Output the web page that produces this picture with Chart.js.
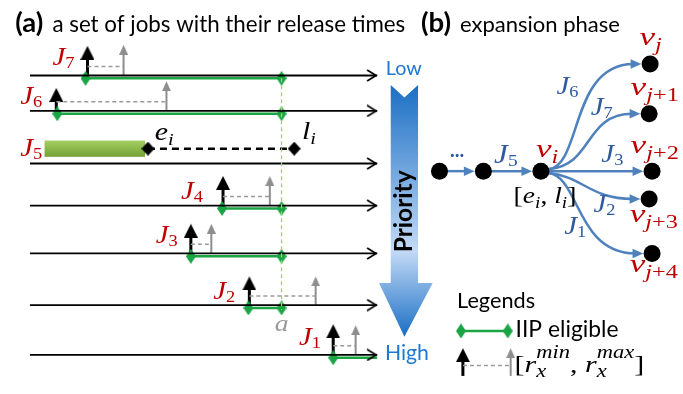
<!DOCTYPE html>
<html>
<head>
<meta charset="utf-8">
<script src="https://cdn.jsdelivr.net/npm/chart.js@4.4.0/dist/chart.umd.min.js"></script>
<style>
html, body { margin: 0; padding: 0; background: #fff; }
#wrap { width: 683px; height: 394px; }
</style>
</head>
<body>
<div id="wrap"><canvas id="chart" width="683" height="394"></canvas></div>
<script>
// (a) jobs, from low to high priority
const jobIds = ['7', '6', '5', '4', '3', '2', '1'];
const rowLevel = [70, 107, 162, 206, 256, 310, 362];
const timeStart = 22;
const timeEnd = 378;
const releaseMin = [81, 49, null, 220, 187, 247, 333];
const releaseMax = [118, 162, null, 268, 208, 315, 356];
const releaseMinTop = [39, 83, null, 175, 225, 280, 330];
const releaseMaxTop = [38, 76, null, 175, 225, 280, 331];
const eligibleFrom = [79, 50, null, 219, 187, 246, 333];
const eligibleTo = [280, 280, null, 280, 280, 280, 378];
// J5 is the running job
const execStart = 37;
const execEnd = 140;
const earliestFinish = 143;
const latestFinish = 293;
const deadlineA = 280;

// (b) expansion graph
const nodeX = [442, 487, 546, 658, 657, 660, 657, 660];
const nodeY = [170, 170, 170, 58, 110, 170, 199, 256];
const nodeSub = [null, null, 'i', 'j', 'j+1', 'j+2', 'j+3', 'j+4'];
const edgeFrom = [0, 1, 2, 2, 2, 2, 2];
const edgeTo = [1, 2, 3, 4, 5, 6, 7];
const edgeJob = ['', '5', '6', '7', '3', '2', '1'];

const GREEN = '#1aa544';
const GRAY = '#8e8e8e';
const RED = '#c00000';
const EDGE = '#4f81bd';
const JBLUE = '#2f5a9e';
const MATH = '"Liberation Serif"';

// little canvases used as point styles
function makeDiamond(w, h, color) {
    const c = document.createElement('canvas');
    c.width = w; c.height = h;
    const g = c.getContext('2d');
    g.fillStyle = color;
    g.beginPath();
    g.moveTo(w / 2, 0); g.lineTo(w, h / 2); g.lineTo(w / 2, h); g.lineTo(0, h / 2);
    g.closePath(); g.fill();
    return c;
}
// apex sits in the middle of the canvas so the point value is the arrow tip
function makeHead(w, h, color) {
    const c = document.createElement('canvas');
    c.width = w; c.height = h * 2;
    const g = c.getContext('2d');
    g.fillStyle = color;
    g.beginPath();
    g.moveTo(w / 2, h); g.lineTo(w, h * 2); g.lineTo(0, h * 2);
    g.closePath(); g.fill();
    return c;
}
function makeChevron(w, h, color) {
    const c = document.createElement('canvas');
    c.width = w * 2; c.height = h;
    const g = c.getContext('2d');
    g.strokeStyle = color; g.lineWidth = 1.7;
    g.beginPath();
    g.moveTo(1, 1); g.lineTo(w - 1, h / 2); g.lineTo(1, h - 1);
    g.stroke();
    return c;
}

const diamondG = makeDiamond(10, 15, GREEN);
const diamondK = makeDiamond(13, 14, '#000');
const headK = makeHead(14, 14, '#000');
const headG = makeHead(9, 10, GRAY);
const chevron = makeChevron(11, 13, '#000');

function seg(x1, y1, x2, y2) {
    return [{ x: x1, y: y1 }, { x: x2, y: y2 }];
}
function line(data, color, width, extra) {
    return Object.assign({ data: data, showLine: true, borderColor: color, borderWidth: width, pointRadius: 0, clip: false }, extra || {});
}

const datasets = [];

// deadline a
datasets.push(line(seg(deadlineA, rowLevel[0] + 3, deadlineA, rowLevel[5] + 5), '#a8cf68', 1.3, { borderDash: [4, 3] }));

// timelines with open arrow ends
rowLevel.forEach(r => {
    datasets.push(line(seg(timeStart, r, timeEnd, r), '#000', 1.8, { pointStyle: chevron, pointRadius: [0, 5] }));
});

// J5: executed part is drawn by the plugin, then [e_i, l_i]
const j5 = rowLevel[2] - 15.5;
datasets.push(line(seg(earliestFinish, j5, latestFinish, j5), '#000', 2.5, { borderDash: [7, 5], pointStyle: diamondK, pointRadius: 5 }));

rowLevel.forEach((r, k) => {
    if (releaseMin[k] === null) return;
    // IIP eligible window
    const endMark = eligibleTo[k] < timeEnd ? 5 : 0;
    datasets.push(line(seg(eligibleFrom[k], r + 3, eligibleTo[k], r + 3), GREEN, 2.5, { pointStyle: diamondG, pointRadius: [5, endMark] }));
    // release window
    datasets.push(line(seg(releaseMin[k], r - 9.5, releaseMax[k], r - 9.5), '#9a9a9a', 1.5, { borderDash: [4, 3] }));
    datasets.push(line(seg(releaseMax[k], r, releaseMax[k], releaseMaxTop[k] + 8), GRAY, 2));
    datasets.push(line(seg(releaseMin[k], r, releaseMin[k], releaseMinTop[k] + 10), '#000', 3));
});
datasets.push({ data: releaseMax.map((x, k) => ({ x: x, y: releaseMaxTop[k] })).filter(p => p.x !== null), pointStyle: headG, pointRadius: 5, clip: false });
datasets.push({ data: releaseMin.map((x, k) => ({ x: x, y: releaseMinTop[k] })).filter(p => p.x !== null), pointStyle: headK, pointRadius: 5, clip: false });

// legend marks
datasets.push(line(seg(464, 337, 512, 337), GREEN, 2.5, { pointStyle: diamondG, pointRadius: 5 }));
datasets.push(line(seg(466, 373, 515, 373), '#9a9a9a', 1.5, { borderDash: [4, 3] }));
datasets.push(line(seg(515, 384, 515, 363), GRAY, 2));
datasets.push(line(seg(466, 384, 466, 365), '#000', 3));
datasets.push({ data: [{ x: 515, y: 355 }], pointStyle: headG, pointRadius: 5, clip: false });
datasets.push({ data: [{ x: 466, y: 355 }], pointStyle: headK, pointRadius: 5, clip: false });

// graph nodes
datasets.push({
    data: nodeX.map((x, k) => ({ x: x, y: nodeY[k] })),
    pointStyle: 'circle', pointRadius: 8.5, pointBackgroundColor: '#000', pointBorderWidth: 0, clip: false
});

// text helpers
function fitText(ctx, text, x, y, width, weight, color) {
    ctx.font = weight + ' 20px Lato';
    const size = 20 * width / ctx.measureText(text).width;
    ctx.font = weight + ' ' + size.toFixed(2) + 'px Lato';
    ctx.fillStyle = color;
    ctx.textAlign = 'left';
    ctx.textBaseline = 'alphabetic';
    ctx.fillText(text, x, y);
}
// runs: {t, s: size, i: italic, dy, k: keep x for next run (sup over sub)}
function drawRuns(ctx, x, y, runs, color, sx, center) {
    ctx.save();
    ctx.fillStyle = color;
    ctx.textAlign = 'left';
    ctx.textBaseline = 'alphabetic';
    const font = r => (r.i ? 'italic ' : '') + r.s + 'px ' + MATH;
    let hold = 0;
    const adv = runs.map(r => {
        ctx.font = font(r);
        const m = ctx.measureText(r.t).width;
        if (r.k) { hold = m; return 0; }
        const a = Math.max(hold, m);
        hold = 0;
        return a;
    });
    const total = adv.reduce((a, b) => a + b, 0);
    ctx.translate(center ? x - total * sx / 2 : x, y);
    ctx.scale(sx, 1);
    let cx = 0;
    runs.forEach((r, k) => {
        ctx.font = font(r);
        ctx.fillText(r.t, cx, r.dy || 0);
        cx += adv[k];
    });
    ctx.restore();
}
function jLabel(sub, size) {
    return [{ t: 'J', s: size, i: 1 }, { t: sub, s: Math.round(size * 0.64), dy: 3 }];
}
function vLabel(sub) {
    const runs = [{ t: 'v', s: 26, i: 1 }, { t: sub[0], s: 18, i: 1, dy: 6 }];
    if (sub.length > 1) runs.push({ t: sub.slice(1), s: 18, dy: 6 });
    return runs;
}

const jobLabelX = [45, 12, 12, 177, 151, 210, 298];
const jobLabelY = [59, 100, 154, 199, 245, 304, 352];
const edgeLabelX = [null, 498, 562, 597, 608, 600, 570];
const edgeLabelY = [null, 161, 89, 111, 160, 213, 236];
const nodeLabelX = [null, null, 541, 647, 638, 638, 637, 637];
const nodeLabelY = [null, null, 155, 38, 90, 151, 223, 275];

const diagram = {
    id: 'diagram',
    beforeDatasetsDraw(chart) {
        const ctx = chart.ctx;
        const X = v => chart.scales.x.getPixelForValue(v);
        const Y = v => chart.scales.y.getPixelForValue(v);
        ctx.save();

        // priority arrow
        const grad = ctx.createLinearGradient(0, Y(80), 0, Y(343));
        grad.addColorStop(0, '#1b6fc4');
        grad.addColorStop(0.66, '#c3daf6');
        grad.addColorStop(1, '#1a6ec4');
        ctx.fillStyle = grad;
        ctx.beginPath();
        [[392, 80], [406, 93], [420, 80], [420, 287], [435, 287], [406, 343], [380, 287], [392, 287]]
            .forEach(([a, b], i) => i ? ctx.lineTo(X(a), Y(b)) : ctx.moveTo(X(a), Y(b)));
        ctx.closePath();
        ctx.fill();
        ctx.save();
        ctx.translate(X(406), Y(212));
        ctx.rotate(-Math.PI / 2);
        ctx.font = 'bold 20px Lato';
        const pw = ctx.measureText('Priority').width;
        ctx.font = 'bold ' + (20 * 82 / pw).toFixed(2) + 'px Lato';
        ctx.fillStyle = '#000';
        ctx.textAlign = 'center';
        ctx.textBaseline = 'middle';
        ctx.fillText('Priority', 0, 0);
        ctx.restore();

        // J5 executed part
        const r5 = rowLevel[2];
        const bg = ctx.createLinearGradient(0, Y(r5 - 24), 0, Y(r5 - 7));
        bg.addColorStop(0, '#a4cf62');
        bg.addColorStop(1, '#73a136');
        ctx.fillStyle = bg;
        ctx.fillRect(X(execStart), Y(r5 - 24), X(execEnd) - X(execStart), Y(r5 - 7) - Y(r5 - 24));

        // graph edges
        ctx.strokeStyle = EDGE;
        ctx.fillStyle = EDGE;
        ctx.lineWidth = 2.5;
        edgeFrom.forEach((f, k) => {
            const t = edgeTo[k];
            const sx = nodeX[f] + 8, sy = nodeY[f];
            const tx = nodeX[t] - 9, ty = nodeY[t];
            const dy = ty - sy;
            ctx.beginPath();
            ctx.moveTo(X(sx), Y(sy + Math.sign(dy) * 2));
            if (Math.abs(dy) < 1) {
                ctx.lineTo(X(tx - 8), Y(ty));
            } else {
                const pull = dy < 0 ? (dy < -80 ? [34, 22] : [46, 36]) : (dy < 40 ? [36, 42] : [32, 28]);
                ctx.bezierCurveTo(X(sx + pull[0]), Y(sy + Math.sign(dy) * 6), X(sx + pull[1]), Y(ty), X(tx - 8), Y(ty));
            }
            ctx.stroke();
            ctx.beginPath();
            ctx.moveTo(X(tx), Y(ty));
            ctx.lineTo(X(tx - 11), Y(ty - 5));
            ctx.lineTo(X(tx - 11), Y(ty + 5));
            ctx.closePath();
            ctx.fill();
        });
        ctx.restore();
    },
    afterDatasetsDraw(chart) {
        const ctx = chart.ctx;
        const X = v => chart.scales.x.getPixelForValue(v);
        const Y = v => chart.scales.y.getPixelForValue(v);
        ctx.save();

        fitText(ctx, '(a)', X(7), Y(25), 28, 'bold', '#000');
        fitText(ctx, 'a set of jobs with their release times', X(45), Y(25), 353, 'normal', '#000');
        fitText(ctx, '(b)', X(423), Y(25), 30, 'bold', '#000');
        fitText(ctx, 'expansion phase', X(463), Y(25), 160, 'normal', '#000');
        fitText(ctx, 'Low', X(387), Y(70), 36, 'normal', '#1f78d1');
        fitText(ctx, 'High', X(386), Y(367), 44, 'normal', '#1f78d1');
        fitText(ctx, 'Legends', X(460), Y(313), 78, 'normal', '#000');
        fitText(ctx, 'IIP eligible', X(520), Y(343), 103, 'normal', '#000');

        jobIds.forEach((id, k) => {
            drawRuns(ctx, X(jobLabelX[k]), Y(jobLabelY[k]), jLabel(id, 25), RED, 1.15, false);
        });
        drawRuns(ctx, X(150), Y(137), [{ t: 'e', s: 25, i: 1 }, { t: 'i', s: 17, i: 1, dy: 5 }], '#000', 1.2, false);
        drawRuns(ctx, X(301), Y(136), [{ t: 'l', s: 25, i: 1 }, { t: 'i', s: 17, i: 1, dy: 5 }], '#000', 1.2, false);
        drawRuns(ctx, X(deadlineA), Y(337), [{ t: 'a', s: 23, i: 1 }], '#999', 1.2, true);

        // graph labels
        ctx.fillStyle = JBLUE;
        ctx.font = 'bold 20px Lato';
        ctx.textAlign = 'center';
        ctx.textBaseline = 'alphabetic';
        ctx.fillText('...', X(460), Y(155));
        edgeJob.forEach((id, k) => {
            if (!id) return;
            drawRuns(ctx, X(edgeLabelX[k]), Y(edgeLabelY[k]), jLabel(id, k === 1 ? 27 : 25), JBLUE, 1.15, false);
        });
        nodeSub.forEach((s, k) => {
            if (!s) return;
            drawRuns(ctx, X(nodeLabelX[k]), Y(nodeLabelY[k]), vLabel(s), RED, 1.35, false);
        });
        drawRuns(ctx, X(518), Y(203), [
            { t: '[', s: 23 }, { t: 'e', s: 23, i: 1 }, { t: 'i', s: 16, i: 1, dy: 5 },
            { t: ', ', s: 23 }, { t: 'l', s: 23, i: 1 }, { t: 'i', s: 16, i: 1, dy: 5 }, { t: ']', s: 23 }
        ], '#000', 1.2, false);

        // legend label for the release window
        drawRuns(ctx, X(519), Y(380), [
            { t: '[', s: 24 }, { t: 'r', s: 24, i: 1 },
            { t: 'min', s: 18, i: 1, dy: -14, k: 1 }, { t: 'x', s: 18, i: 1, dy: 5 },
            { t: ', ', s: 24 }, { t: 'r', s: 24, i: 1 },
            { t: 'max', s: 18, i: 1, dy: -14, k: 1 }, { t: 'x', s: 18, i: 1, dy: 5 },
            { t: ']', s: 24 }
        ], '#000', 1.25, false);
        ctx.restore();
    }
};

new Chart(document.getElementById('chart'), {
    type: 'scatter',
    data: { datasets: datasets },
    options: {
        responsive: false,
        animation: false,
        devicePixelRatio: 1,
        events: [],
        layout: { padding: 0 },
        scales: {
            x: { type: 'linear', min: 0, max: 683, display: false },
            y: { type: 'linear', min: 0, max: 394, reverse: true, display: false }
        },
        plugins: { legend: { display: false }, tooltip: { enabled: false } }
    },
    plugins: [diagram]
});
</script>
</body>
</html>
